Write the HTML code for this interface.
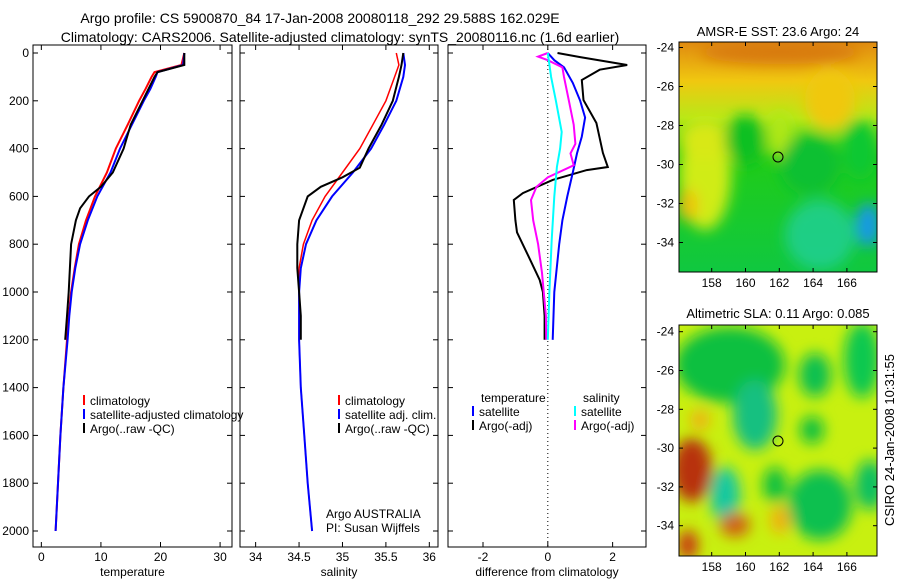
<!DOCTYPE html>
<html><head><meta charset="utf-8"><style>
body{margin:0;background:#fff;}
svg{display:block;font-family:"Liberation Sans",sans-serif;}
</style></head><body>
<svg id="fig" width="900" height="580" viewBox="0 0 900 580">
<defs>
<filter id="bl" x="-50%" y="-50%" width="200%" height="200%"><feGaussianBlur stdDeviation="7"/></filter>
<clipPath id="c1"><rect x="679" y="42" width="198" height="230"/></clipPath>
<clipPath id="c2"><rect x="679" y="325" width="198" height="231"/></clipPath>
<linearGradient id="sstg" x1="0" y1="0" x2="0" y2="1">
<stop offset="0" stop-color="#e08a10"/><stop offset="0.17" stop-color="#f0c810"/><stop offset="0.33" stop-color="#b8e818"/><stop offset="0.5" stop-color="#20cc18"/><stop offset="1" stop-color="#10c840"/></linearGradient>
</defs>
<text x="320" y="23" text-anchor="middle" font-size="14">Argo profile: CS 5900870_84 17-Jan-2008 20080118_292 29.588S 162.029E</text>
<text x="340" y="42" text-anchor="middle" font-size="14">Climatology: CARS2006. Satellite-adjusted climatology: synTS_20080116.nc (1.6d earlier)</text>
<g id="panels"></g>
<!-- SST map -->
<g>
<text x="778" y="36" text-anchor="middle" font-size="13">AMSR-E SST: 23.6 Argo: 24</text>
<g clip-path="url(#c1)">
<rect x="679" y="42" width="198" height="230" fill="url(#sstg)"/>
<g filter="url(#bl)">
<ellipse cx="705" cy="175" rx="26" ry="55" fill="#d0ec18"/>
<ellipse cx="688" cy="205" rx="10" ry="16" fill="#f0c010"/>
<ellipse cx="705" cy="140" rx="25" ry="20" fill="#d8e818"/>
<ellipse cx="780" cy="135" rx="12" ry="25" fill="#b0e818"/>
<ellipse cx="830" cy="100" rx="25" ry="30" fill="#f0c810"/>
<ellipse cx="745" cy="140" rx="20" ry="25" fill="#10c020"/>
<ellipse cx="810" cy="165" rx="30" ry="30" fill="#10c030"/>
<ellipse cx="860" cy="150" rx="18" ry="30" fill="#10c830"/>
<ellipse cx="820" cy="235" rx="35" ry="35" fill="#20d098" opacity="0.8"/>
<ellipse cx="868" cy="225" rx="12" ry="22" fill="#1898e8"/>
<ellipse cx="780" cy="52" rx="80" ry="12" fill="#d87a10"/>
</g></g>
<rect x="679" y="42" width="198" height="230" fill="none" stroke="#000"/>
<circle cx="778" cy="157" r="5" fill="none" stroke="#000"/>
</g>
<!-- SLA map -->
<g>
<text x="778" y="318" text-anchor="middle" font-size="13">Altimetric SLA: 0.11 Argo: 0.085</text>
<g clip-path="url(#c2)">
<rect x="679" y="325" width="198" height="231" fill="#c8f010"/>
<g filter="url(#bl)">
<ellipse cx="730" cy="365" rx="55" ry="38" fill="#10c040"/>
<ellipse cx="755" cy="415" rx="22" ry="35" fill="#18c080"/>
<ellipse cx="815" cy="375" rx="16" ry="22" fill="#10c050"/>
<ellipse cx="862" cy="360" rx="18" ry="38" fill="#10c850"/>
<ellipse cx="812" cy="430" rx="12" ry="14" fill="#10c040"/>
<ellipse cx="775" cy="485" rx="12" ry="18" fill="#10c040"/>
<ellipse cx="820" cy="505" rx="32" ry="35" fill="#10c050"/>
<ellipse cx="870" cy="485" rx="15" ry="25" fill="#10c060"/>
<ellipse cx="725" cy="495" rx="15" ry="28" fill="#18c8a0"/>
<ellipse cx="692" cy="470" rx="20" ry="32" fill="#b83008"/>
<ellipse cx="700" cy="420" rx="10" ry="10" fill="#f0b010"/>
<ellipse cx="735" cy="525" rx="15" ry="12" fill="#d06010"/>
<ellipse cx="688" cy="545" rx="10" ry="15" fill="#c83808"/>
<ellipse cx="780" cy="520" rx="10" ry="14" fill="#f0b010"/>
</g></g>
<rect x="679" y="325" width="198" height="231" fill="none" stroke="#000"/>
<circle cx="778" cy="441" r="5" fill="none" stroke="#000"/>
<text transform="translate(894,440) rotate(-90)" text-anchor="middle" font-size="13">CSIRO 24-Jan-2008 10:31:55</text>
</g>
<g id="mapaxes"></g>
</svg>
<script>
const NS="http://www.w3.org/2000/svg";
const depthTicks=[0,200,400,600,800,1000,1200,1400,1600,1800,2000];
const tempTicks=[0,10,20,30];
const salTicks=[34,34.5,35,35.5,36];
const salTickLabels=["34","34.5","35","35.5","36"];
const diffTicks=[-2,0,2];
// temperature
const tempClimD=[0,50,80,100,150,200,300,400,500,600,700,800,900,1000,1100,1200,1400,1600,1800,2000];
const tempClim=[24,23.5,19,18.5,17.5,16.4,14.5,12.5,11,9,7.5,6.3,5.6,5,4.6,4.3,3.7,3.2,2.8,2.4];
const tempSat=[24,23.8,19.5,19.2,18.3,17.2,15.2,13.2,11.6,9.4,7.8,6.5,5.7,5.1,4.7,4.4,3.7,3.2,2.8,2.4];
const tempArgoD=[0,50,80,100,200,300,400,500,560,600,650,700,800,900,1000,1100,1200];
const tempArgo=[24,24,19.5,19,17,15,13.8,12,10,8,6.5,5.8,5,4.8,4.6,4.3,4.0];
// salinity
const salClimD=[0,50,100,200,300,400,500,600,700,800,900,1000,1200,1400,1600,1800,2000];
const salClim=[35.62,35.65,35.6,35.5,35.35,35.2,35.0,34.8,34.65,34.55,34.5,34.5,34.5,34.52,34.56,34.6,34.65];
const salSat=[35.7,35.72,35.7,35.62,35.48,35.33,35.12,34.88,34.7,34.58,34.52,34.5,34.5,34.52,34.56,34.6,34.65];
const salArgoD=[0,50,100,200,300,400,480,520,560,600,700,800,900,1000,1100,1200];
const salArgo=[35.7,35.68,35.65,35.58,35.45,35.3,35.2,35.0,34.75,34.6,34.5,34.48,34.48,34.5,34.52,34.52];
// differences
const dTempArgoD=[0,17,50,70,113,197,293,418,477,490,531,586,615,700,750,850,950,1000,1100,1200];
const dTempArgo=[0.3,1.0,2.45,1.6,1.05,1.1,1.5,1.7,1.85,1.2,0.15,-0.77,-1.05,-1.0,-0.95,-0.6,-0.25,-0.15,-0.1,-0.1];
const dTempSatD=[0,30,60,125,200,270,350,420,500,600,700,800,1000,1200];
const dTempSat=[0,0.2,0.5,0.77,1.0,1.15,1.05,0.9,0.77,0.6,0.45,0.35,0.2,0.15];
const dSalSatD=[0,100,200,330,400,477,600,782,1000,1200];
const dSalSat=[0,0.1,0.25,0.43,0.38,0.28,0.2,0.12,0.05,0.0];
const dSalArgoD=[0,15,30,60,100,200,300,380,420,470,520,560,615,700,800,920,1100,1200];
const dSalArgo=[0,-0.3,0.0,0.45,0.5,0.65,0.8,0.85,0.7,0.8,0.0,-0.35,-0.52,-0.45,-0.3,-0.18,-0.06,-0.05];
const latTicks=[-24,-26,-28,-30,-32,-34];
const lonTicks=[158,160,162,164,166];

const fig=document.getElementById('panels');
function el(t,a,p){const e=document.createElementNS(NS,t);for(const k in a)e.setAttribute(k,a[k]);(p||fig).appendChild(e);return e;}
const Y=d=>53+d*0.239;
function panel(name,x0,w,xmin,xmax,xticks,xlabels,xtitle,showY){
  const g=el('g',{});
  
  
  const X=v=>x0+(v-xmin)/(xmax-xmin)*w;
  el('rect',{x:x0,y:45,width:w,height:502,fill:'none',stroke:'#000'},g);
  xticks.forEach((t,i)=>{const x=X(t);
    el('line',{x1:x,x2:x,y1:547,y2:542,stroke:'#000'},g);
    el('line',{x1:x,x2:x,y1:45,y2:50,stroke:'#000'},g);
    const tx=el('text',{x:x,y:561,'text-anchor':'middle','font-size':12},g);tx.textContent=xlabels[i];});
  depthTicks.forEach(d=>{const y=Y(d);
    el('line',{x1:x0,x2:x0+5,y1:y,y2:y,stroke:'#000'},g);
    el('line',{x1:x0+w,x2:x0+w-5,y1:y,y2:y,stroke:'#000'},g);
    if(showY){const tx=el('text',{x:x0-4,y:y+4,'text-anchor':'end','font-size':12},g);tx.textContent=d;}});
  const tt=el('text',{x:x0+w/2,y:576,'text-anchor':'middle','font-size':12},g);tt.textContent=xtitle;
  return {g,X};
}
function line(p,ds,vs,col,wd,name){
  const pts=ds.map((d,i)=>p.X(vs[i]).toFixed(1)+','+Y(d).toFixed(1)).join(' ');
  const l=el('polyline',{points:pts,fill:'none',stroke:col,'stroke-width':wd},p.g);
  
  
}
function leg(p,x,y,col,txt){
  el('line',{x1:x,x2:x,y1:y-10,y2:y,stroke:col,'stroke-width':2},p.g);
  const t=el('text',{x:x+6,y:y,'font-size':12},p.g);t.textContent=txt;
}
const p1=panel('temperature-panel',33,199,-1.4,32,tempTicks,tempTicks.map(String),'temperature',true);
line(p1,tempClimD,tempClim,'#f00',2,'temp-climatology-line');
line(p1,tempClimD,tempSat,'#00f',2,'temp-satellite-line');
line(p1,tempArgoD,tempArgo,'#000',2,'temp-argo-line');
leg(p1,84,405,'#f00','climatology');leg(p1,84,419,'#00f','satellite-adjusted climatology');leg(p1,84,433,'#000','Argo(..raw -QC)');

const p2=panel('salinity-panel',240,198,33.82,36.1,salTicks,salTickLabels,'salinity',false);
line(p2,salClimD,salClim,'#f00',1.5,'sal-climatology-line');
line(p2,salClimD,salSat,'#00f',2,'sal-satellite-line');
line(p2,salArgoD,salArgo,'#000',2,'sal-argo-line');
leg(p2,339,405,'#f00','climatology');leg(p2,339,419,'#00f','satellite adj. clim.');leg(p2,339,433,'#000','Argo(..raw -QC)');
let t=el('text',{x:326,y:518,'font-size':12},p2.g);t.textContent='Argo AUSTRALIA';
t=el('text',{x:326,y:532,'font-size':12},p2.g);t.textContent='PI: Susan Wijffels';

const p3=panel('difference-panel',448,198,-3.08,3.03,diffTicks,diffTicks.map(String),'difference from climatology',false);
el('line',{x1:p3.X(0),x2:p3.X(0),y1:45,y2:547,stroke:'#000','stroke-dasharray':'1,3'},p3.g);
line(p3,dTempArgoD,dTempArgo,'#000',2,'diff-temp-argo-line');
line(p3,dTempSatD,dTempSat,'#00f',2,'diff-temp-satellite-line');
line(p3,dSalArgoD,dSalArgo,'#f0f',2,'diff-sal-argo-line');
line(p3,dSalSatD,dSalSat,'#0ff',2,'diff-sal-satellite-line');
t=el('text',{x:481,y:402,'font-size':12},p3.g);t.textContent='temperature';
t=el('text',{x:583,y:402,'font-size':12},p3.g);t.textContent='salinity';
leg(p3,473,416,'#00f','satellite');leg(p3,473,430,'#000','Argo(-adj)');
leg(p3,575,416,'#0ff','satellite');leg(p3,575,430,'#f0f','Argo(-adj)');

// map axes
const ma=document.getElementById('mapaxes');
[[42,47.5,19.5,272],[325,331.7,19.4,556]].forEach(([top,y24,s,bot])=>{
  latTicks.forEach(la=>{const y=y24+(-24-la)*s;
    el('line',{x1:679,x2:683,y1:y,y2:y,stroke:'#000'},ma);
    el('line',{x1:877,x2:873,y1:y,y2:y,stroke:'#000'},ma);
    const tx=el('text',{x:674,y:y+4,'text-anchor':'end','font-size':12},ma);tx.textContent=la;});
  lonTicks.forEach(lo=>{const x=711.7+(lo-158)*16.9;
    el('line',{x1:x,x2:x,y1:top,y2:top+4,stroke:'#000'},ma);
    el('line',{x1:x,x2:x,y1:bot,y2:bot-4,stroke:'#000'},ma);
    const tx=el('text',{x:x,y:bot+15,'text-anchor':'middle','font-size':12},ma);tx.textContent=lo;});
});
</script>
</body></html>
